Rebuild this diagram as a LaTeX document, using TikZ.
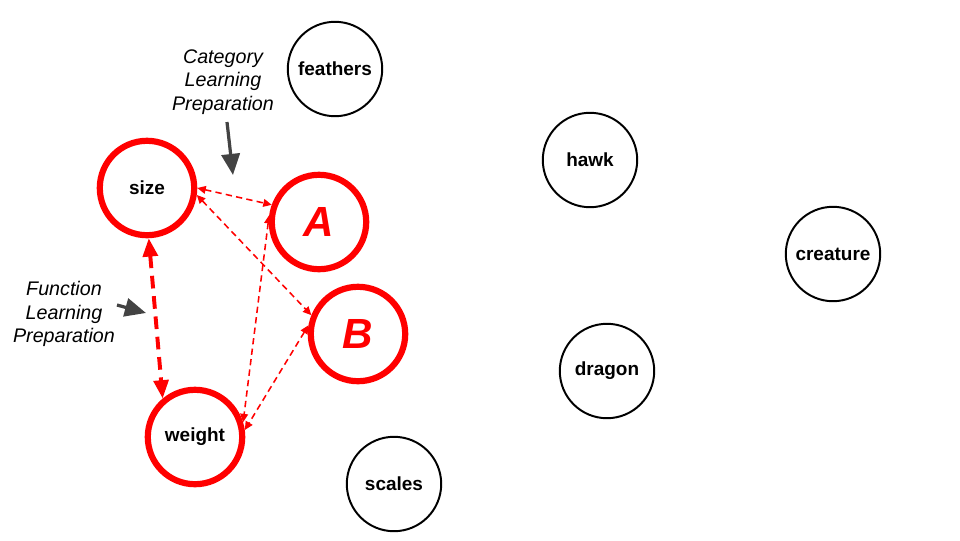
\documentclass[tikz,border=0pt]{standalone}
\usepackage{fontspec}
\setmainfont{Liberation Sans}
\usetikzlibrary{arrows.meta}
\definecolor{arrowgray}{HTML}{434343}

\begin{document}
\begin{tikzpicture}[x=0.025cm,y=-0.025cm,>=Triangle,
    word node/.style={circle,draw,line width=1.4pt,minimum size=2.36cm,inner sep=0pt,font=\fontsize{13.5}{15}\selectfont\bfseries},
    red node/.style={word node,draw=red,line width=4.4pt},
    letter node/.style={red node,text=red,font=\fontsize{30}{33}\selectfont\bfseries\itshape},
    note/.style={align=center,font=\fontsize{14}{16.5}\selectfont\itshape,inner sep=1pt},
    link/.style={red,line width=1.1pt,dash pattern=on 4.5pt off 3pt,{Triangle[length=6pt,width=5.5pt]}-{Triangle[length=6pt,width=5.5pt]}},
    strong link/.style={red,line width=2.8pt,dash pattern=on 9pt off 5.5pt,{Triangle[length=13pt,width=10.5pt]}-{Triangle[length=13pt,width=10.5pt]}},
    pointer/.style={arrowgray,line width=2.3pt,-{Triangle[length=15pt,width=13pt]}}]

                \useasboundingbox (0,0) rectangle (960,540);

                \node[red node] (size) at (147,188) {size};
                \node[letter node] (A) at (319,222) {A};
                \node[letter node] (B) at (358,334) {B};
                \node[red node] (weight) at (195,437) {weight};
                \node[word node] (feathers) at (335,69) {feathers};
                \node[word node] (hawk) at (590,160) {hawk};
                \node[word node] (creature) at (833,254) {creature};
                \node[word node] (dragon) at (607,371) {dragon};
                \node[word node] (scales) at (394,484) {scales};

                \node[note] (catnote) at (223,82) {Category\\Learning\\Preparation};
                \node[note] (funnote) at (64,314) {Function\\Learning\\Preparation};
                \coordinate (cattail) at (227,122);
                \coordinate (cattip) at (233,175);
                \coordinate (funtail) at (117,305);
                \coordinate (funtip) at (146,313);

                \draw[link] (size.east) to (A.160);
                \draw[link] (size.-8) to (B.158);
                \draw[link] (A.172) to (weight.17);
                \draw[link] (B.170) to (weight.8);
                \draw[strong link] (size.-88) to (weight.130);
                \draw[pointer] (cattail) to (cattip);
                \draw[pointer] (funtail) to (funtip);

            \end{tikzpicture}
\end{document}
